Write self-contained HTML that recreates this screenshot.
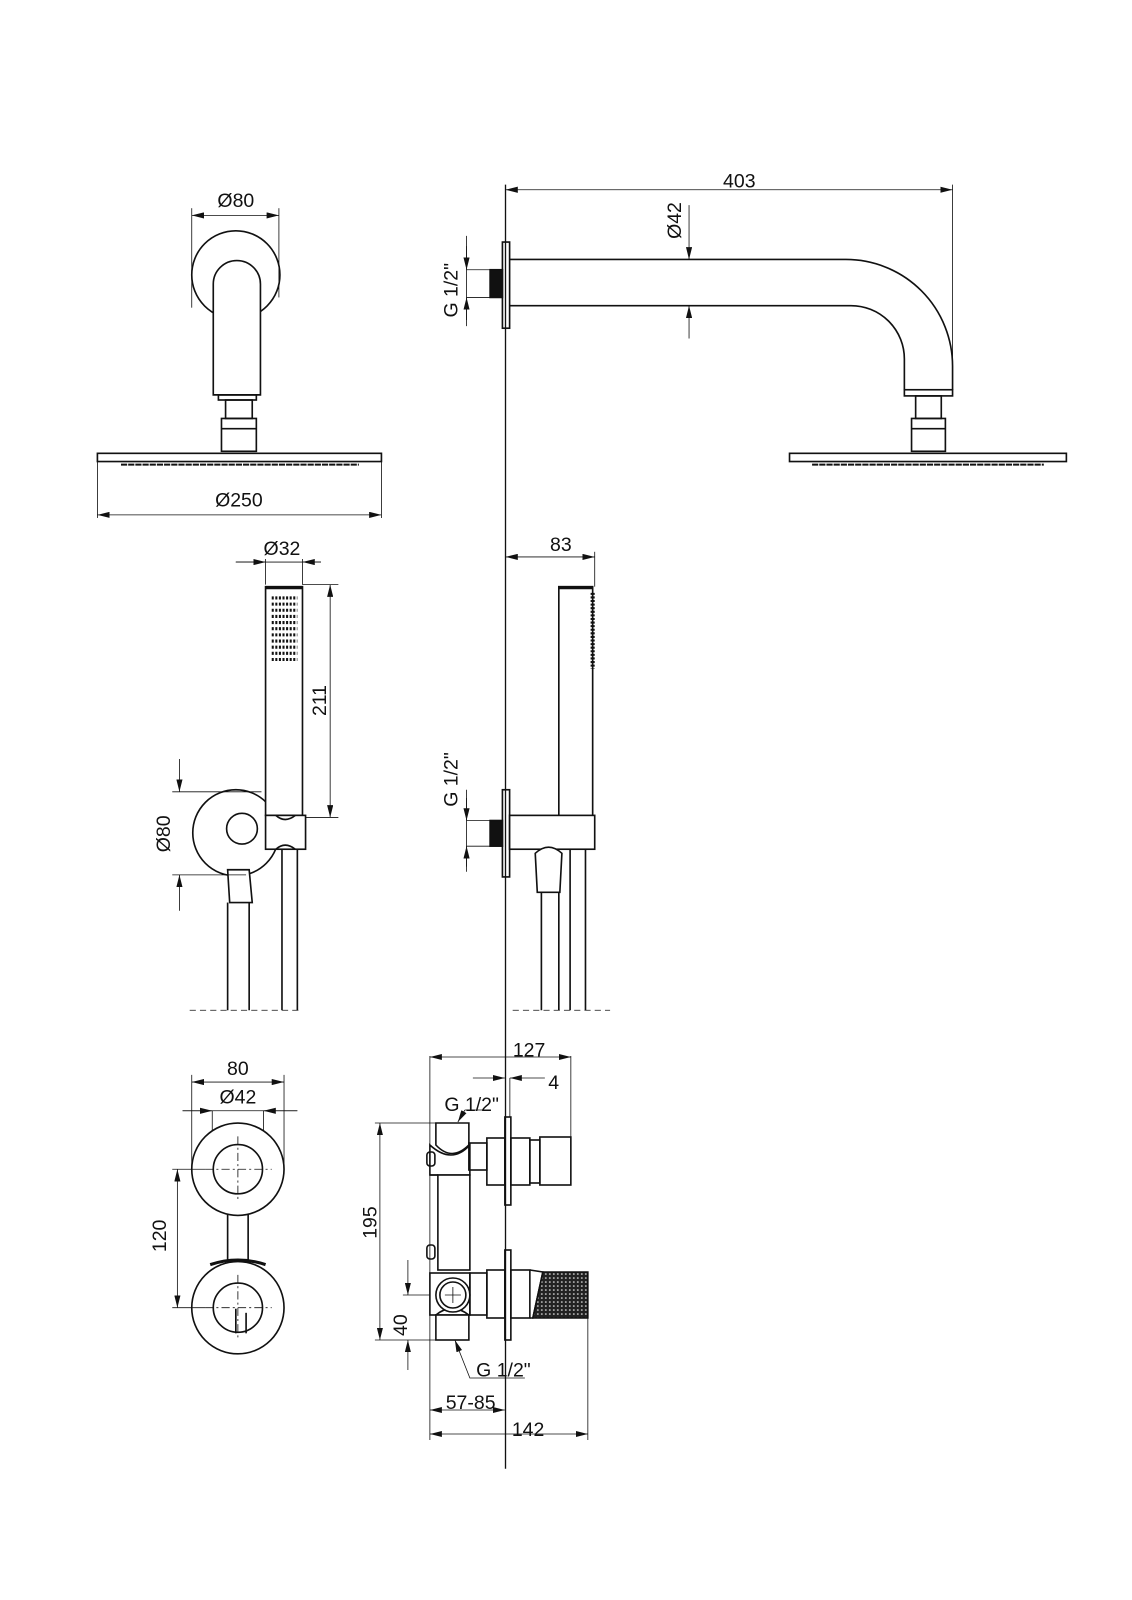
<!DOCTYPE html>
<html><head><meta charset="utf-8"><style>
html,body{margin:0;padding:0;background:#fff}
svg{display:block}
text{font-family:"Liberation Sans Narrow","Liberation Sans",sans-serif;font-size:19px;fill:#111}
</style></head><body>
<svg width="1132" height="1600" viewBox="0 0 1104 1560" preserveAspectRatio="none" xmlns="http://www.w3.org/2000/svg">
<defs>
<marker id="a" viewBox="0 0 12 6" refX="12" refY="3" markerWidth="12" markerHeight="6" markerUnits="userSpaceOnUse" orient="auto-start-reverse"><path d="M0,0L12,3L0,6z" fill="#111"/></marker>
<pattern id="kn" width="4" height="4" patternUnits="userSpaceOnUse"><rect width="4" height="4" fill="#222"/><circle cx="2" cy="2" r="0.8" fill="#fff"/></pattern>
</defs>
<g fill="none" stroke="#111" stroke-width="1.6">
<line x1="493" y1="180" x2="493" y2="1432" stroke-width="1.3"/>

<line x1="187" y1="203" x2="187" y2="300" stroke-width="0.8"/>
<line x1="272" y1="203" x2="272" y2="290" stroke-width="0.8"/>
<line x1="187" y1="210" x2="272" y2="210" stroke-width="0.8" marker-start="url(#a)" marker-end="url(#a)"/>
<circle cx="230" cy="268" r="43"/>
<path d="M208,385 V277 A23,23 0 0 1 254,277 V385 Z" fill="#fff"/>
<rect x="213" y="385" width="37" height="5"/>
<rect x="220" y="390" width="26" height="18"/>
<rect x="216" y="408" width="34" height="32"/>
<line x1="216" y1="418" x2="250" y2="418"/>
<rect x="95" y="442" width="277" height="8"/>
<line x1="118" y1="453" x2="350" y2="453" stroke-width="2" stroke-dasharray="6 1"/>
<line x1="95" y1="450" x2="95" y2="505" stroke-width="0.8"/>
<line x1="372" y1="450" x2="372" y2="505" stroke-width="0.8"/>
<line x1="95" y1="502" x2="372" y2="502" stroke-width="0.8" marker-start="url(#a)" marker-end="url(#a)"/>

<line x1="493" y1="185" x2="929" y2="185" stroke-width="0.8" marker-start="url(#a)" marker-end="url(#a)"/>
<line x1="929" y1="180" x2="929" y2="370" stroke-width="0.8"/>
<rect x="490" y="236" width="7" height="84"/>
<rect x="478" y="263" width="12" height="27" fill="#111"/>
<line x1="455" y1="230" x2="455" y2="318" stroke-width="0.8"/>
<line x1="455" y1="240" x2="455" y2="263" stroke-width="0.8" marker-end="url(#a)"/>
<line x1="455" y1="312" x2="455" y2="290" stroke-width="0.8" marker-end="url(#a)"/>
<line x1="455" y1="263" x2="478" y2="263" stroke-width="0.8"/>
<line x1="455" y1="290" x2="478" y2="290" stroke-width="0.8"/>
<path d="M497,253 H825 A104,104 0 0 1 929,357 V380"/>
<path d="M497,298 H830 A52,52 0 0 1 882,350 V380"/>
<line x1="672" y1="200" x2="672" y2="253" stroke-width="0.8" marker-end="url(#a)"/>
<line x1="672" y1="330" x2="672" y2="298" stroke-width="0.8" marker-end="url(#a)"/>
<rect x="882" y="380" width="47" height="6"/>
<rect x="893" y="386" width="25" height="22"/>
<rect x="889" y="408" width="33" height="32"/>
<line x1="889" y1="418" x2="922" y2="418"/>
<rect x="770" y="442" width="270" height="8"/>
<line x1="792" y1="453" x2="1018" y2="453" stroke-width="2" stroke-dasharray="6 1"/>

<line x1="230" y1="548" x2="313" y2="548" stroke-width="0.8"/>
<line x1="230" y1="548" x2="259" y2="548" stroke-width="0.8" marker-end="url(#a)"/>
<line x1="313" y1="548" x2="295" y2="548" stroke-width="0.8" marker-end="url(#a)"/>
<line x1="259" y1="545" x2="259" y2="570" stroke-width="0.8"/>
<line x1="295" y1="545" x2="295" y2="570" stroke-width="0.8"/>
<circle cx="230" cy="812" r="42" fill="#fff"/>
<circle cx="236" cy="808" r="15" fill="#fff"/>
<rect x="259" y="572" width="36" height="223" fill="#fff"/>
<line x1="259" y1="573" x2="295" y2="573" stroke-width="3"/>
<g stroke="#111" stroke-width="3" stroke-dasharray="2 1.5">
<line x1="265" y1="583" x2="290" y2="583"/><line x1="265" y1="589" x2="290" y2="589"/><line x1="265" y1="595" x2="290" y2="595"/><line x1="265" y1="601" x2="290" y2="601"/><line x1="265" y1="607" x2="290" y2="607"/><line x1="265" y1="613" x2="290" y2="613"/><line x1="265" y1="619" x2="290" y2="619"/><line x1="265" y1="625" x2="290" y2="625"/><line x1="265" y1="631" x2="290" y2="631"/><line x1="265" y1="637" x2="290" y2="637"/><line x1="265" y1="643" x2="290" y2="643"/>
</g>
<line x1="295" y1="570" x2="330" y2="570" stroke-width="0.8"/>
<line x1="298" y1="797" x2="330" y2="797" stroke-width="0.8"/>
<line x1="322" y1="570" x2="322" y2="797" stroke-width="0.8" marker-start="url(#a)" marker-end="url(#a)"/>
<rect x="259" y="795" width="39" height="33" fill="#fff"/>
<path d="M269,795 Q278,803 288,795"/>
<path d="M269,828 Q278,820 288,828"/>
<path d="M222,848 L243,848 L246,880 L224,880 Z" fill="#fff"/>
<line x1="222" y1="880" x2="222" y2="985"/><line x1="243" y1="880" x2="243" y2="985"/>
<line x1="275" y1="828" x2="275" y2="985"/><line x1="290" y1="828" x2="290" y2="985"/>
<line x1="168" y1="772" x2="255" y2="772" stroke-width="0.8"/>
<line x1="168" y1="853" x2="240" y2="853" stroke-width="0.8"/>
<line x1="175" y1="740" x2="175" y2="772" stroke-width="0.8" marker-end="url(#a)"/>
<line x1="175" y1="888" x2="175" y2="853" stroke-width="0.8" marker-end="url(#a)"/>
<line x1="185" y1="985" x2="292" y2="985" stroke-width="0.8" stroke-dasharray="6 4"/>

<line x1="493" y1="543" x2="580" y2="543" stroke-width="0.8" marker-start="url(#a)" marker-end="url(#a)"/>
<line x1="580" y1="538" x2="580" y2="572" stroke-width="0.8"/>
<rect x="545" y="572" width="33" height="226"/>
<line x1="545" y1="573" x2="578" y2="573" stroke-width="3"/>
<line x1="578" y1="578" x2="578" y2="652" stroke-width="4" stroke-dasharray="2 1.5"/>
<rect x="490" y="770" width="7" height="85"/>
<rect x="478" y="800" width="12" height="25" fill="#111"/>
<line x1="455" y1="770" x2="455" y2="850" stroke-width="0.8"/>
<line x1="455" y1="778" x2="455" y2="800" stroke-width="0.8" marker-end="url(#a)"/>
<line x1="455" y1="845" x2="455" y2="825" stroke-width="0.8" marker-end="url(#a)"/>
<line x1="455" y1="800" x2="478" y2="800" stroke-width="0.8"/>
<line x1="455" y1="825" x2="478" y2="825" stroke-width="0.8"/>
<rect x="497" y="795" width="83" height="33" fill="#fff"/>
<path d="M522,832 Q535,820 548,832 L546,870 L524,870 Z" fill="#fff"/>
<line x1="528" y1="870" x2="528" y2="985"/><line x1="545" y1="870" x2="545" y2="985"/>
<line x1="556" y1="828" x2="556" y2="985"/><line x1="571" y1="828" x2="571" y2="985"/>
<line x1="500" y1="985" x2="595" y2="985" stroke-width="0.8" stroke-dasharray="6 4"/>

<line x1="187" y1="1048" x2="187" y2="1140" stroke-width="0.8"/>
<line x1="277" y1="1048" x2="277" y2="1140" stroke-width="0.8"/>
<line x1="187" y1="1055" x2="277" y2="1055" stroke-width="0.8" marker-start="url(#a)" marker-end="url(#a)"/>
<line x1="178" y1="1083" x2="290" y2="1083" stroke-width="0.8"/>
<line x1="178" y1="1083" x2="207" y2="1083" stroke-width="0.8" marker-end="url(#a)"/>
<line x1="290" y1="1083" x2="257" y2="1083" stroke-width="0.8" marker-end="url(#a)"/>
<line x1="207" y1="1083" x2="207" y2="1140" stroke-width="0.8"/>
<line x1="257" y1="1083" x2="257" y2="1140" stroke-width="0.8"/>
<rect x="222" y="1183" width="20" height="50"/>
<circle cx="232" cy="1140" r="45" fill="#fff"/>
<circle cx="232" cy="1140" r="24"/>
<path d="M205,1233 Q232,1224 259,1233" stroke-width="3"/>
<circle cx="232" cy="1275" r="45" fill="#fff"/>
<circle cx="232" cy="1275" r="24"/>
<line x1="230" y1="1276" x2="230" y2="1300"/><line x1="240" y1="1280" x2="240" y2="1300"/>
<g stroke-width="0.8" stroke-dasharray="8 3 2 3">
<line x1="200" y1="1140" x2="265" y2="1140"/><line x1="232" y1="1108" x2="232" y2="1172"/>
<line x1="200" y1="1275" x2="265" y2="1275"/><line x1="232" y1="1243" x2="232" y2="1307"/>
</g>
<line x1="168" y1="1140" x2="200" y2="1140" stroke-width="0.8"/>
<line x1="168" y1="1275" x2="200" y2="1275" stroke-width="0.8"/>
<line x1="173" y1="1140" x2="173" y2="1275" stroke-width="0.8" marker-start="url(#a)" marker-end="url(#a)"/>

<g transform="scale(0.975)">
<line x1="430" y1="1056" x2="430" y2="1440" stroke-width="0.8"/>
<line x1="571" y1="1056" x2="571" y2="1138" stroke-width="0.8"/>
<line x1="588" y1="1300" x2="588" y2="1440" stroke-width="0.8"/>
<line x1="430" y1="1057" x2="571" y2="1057" stroke-width="0.8" marker-start="url(#a)" marker-end="url(#a)"/>
<line x1="473" y1="1078" x2="505" y2="1078" stroke-width="0.8" marker-end="url(#a)"/>
<line x1="545" y1="1078" x2="510" y2="1078" stroke-width="0.8" marker-end="url(#a)"/>
<line x1="510" y1="1078" x2="510" y2="1117" stroke-width="0.8"/>
<line x1="430" y1="1410" x2="505" y2="1410" stroke-width="0.8" marker-start="url(#a)" marker-end="url(#a)"/>
<line x1="430" y1="1434" x2="588" y2="1434" stroke-width="0.8" marker-start="url(#a)" marker-end="url(#a)"/>
<line x1="375" y1="1123" x2="436" y2="1123" stroke-width="0.8"/>
<line x1="375" y1="1340" x2="436" y2="1340" stroke-width="0.8"/>
<line x1="380" y1="1123" x2="380" y2="1340" stroke-width="0.8" marker-start="url(#a)" marker-end="url(#a)"/>
<line x1="403" y1="1295" x2="436" y2="1295" stroke-width="0.8"/>
<line x1="408" y1="1260" x2="408" y2="1295" stroke-width="0.8" marker-end="url(#a)"/>
<line x1="408" y1="1370" x2="408" y2="1340" stroke-width="0.8" marker-end="url(#a)"/>
<polyline points="465,1110 458,1122" stroke-width="0.8" marker-end="url(#a)"/>
<line x1="465" y1="1110" x2="487" y2="1110" stroke-width="0.8"/>
<polyline points="525,1378 470,1378 455,1340" stroke-width="0.8" marker-end="url(#a)"/>
<path d="M436,1123 H469 V1145 Q452,1162 436,1145 Z" fill="#fff"/>
<path d="M430,1145 Q452,1165 470,1145 V1175 H430 Z" fill="#fff"/>
<rect x="427" y="1152" width="8" height="14" rx="3"/>
<rect x="438" y="1175" width="32" height="95" fill="#fff"/>
<line x1="430" y1="1175" x2="438" y2="1175"/>
<rect x="427" y="1245" width="8" height="14" rx="3"/>
<rect x="469" y="1143" width="18" height="27"/>
<rect x="487" y="1138" width="18" height="47"/>
<rect x="505" y="1117" width="6" height="88"/>
<rect x="511" y="1138" width="19" height="47"/>
<rect x="530" y="1140" width="10" height="43"/>
<rect x="540" y="1137" width="31" height="48"/>
<rect x="430" y="1273" width="40" height="42" fill="#fff"/>
<rect x="436" y="1315" width="33" height="25" fill="#fff"/>
<path d="M436,1315 Q452,1302 469,1315"/>
<circle cx="453" cy="1295" r="17" fill="#fff"/>
<circle cx="453" cy="1295" r="13"/>
<g stroke-width="0.8"><line x1="445" y1="1295" x2="461" y2="1295"/><line x1="453" y1="1287" x2="453" y2="1303"/></g>
<rect x="470" y="1273" width="17" height="42"/>
<rect x="487" y="1270" width="18" height="48"/>
<rect x="505" y="1250" width="6" height="90"/>
<rect x="511" y="1270" width="19" height="48"/>
<path d="M530,1270 L543,1272 L533,1318 L530,1318" />
<path d="M543,1272 H588 V1318 H533 Z" fill="url(#kn)" stroke="#111"/>
</g>
</g>

<text x="230" y="202" text-anchor="middle">Ø80</text>
<text x="233" y="494" text-anchor="middle">Ø250</text>
<text x="721" y="183" text-anchor="middle">403</text>
<text transform="translate(664,215) rotate(-90)" text-anchor="middle">Ø42</text>
<text transform="translate(446,283) rotate(-90)" text-anchor="middle">G 1/2"</text>
<text x="275" y="541" text-anchor="middle">Ø32</text>
<text transform="translate(318,683) rotate(-90)" text-anchor="middle">211</text>
<text transform="translate(166,813) rotate(-90)" text-anchor="middle">Ø80</text>
<text x="547" y="537" text-anchor="middle">83</text>
<text transform="translate(446,760) rotate(-90)" text-anchor="middle">G 1/2"</text>
<text x="232" y="1048" text-anchor="middle">80</text>
<text x="232" y="1076" text-anchor="middle">Ø42</text>
<text transform="translate(162,1205) rotate(-90)" text-anchor="middle">120</text>
<text x="516" y="1030" text-anchor="middle">127</text>
<text x="540" y="1062" text-anchor="middle">4</text>
<text x="460" y="1083" text-anchor="middle">G 1/2"</text>
<text transform="translate(367,1192) rotate(-90)" text-anchor="middle">195</text>
<text transform="translate(397,1292) rotate(-90)" text-anchor="middle">40</text>
<text x="491" y="1342" text-anchor="middle">G 1/2"</text>
<text x="459" y="1374" text-anchor="middle">57-85</text>
<text x="515" y="1400" text-anchor="middle">142</text>
</svg>
</body></html>
